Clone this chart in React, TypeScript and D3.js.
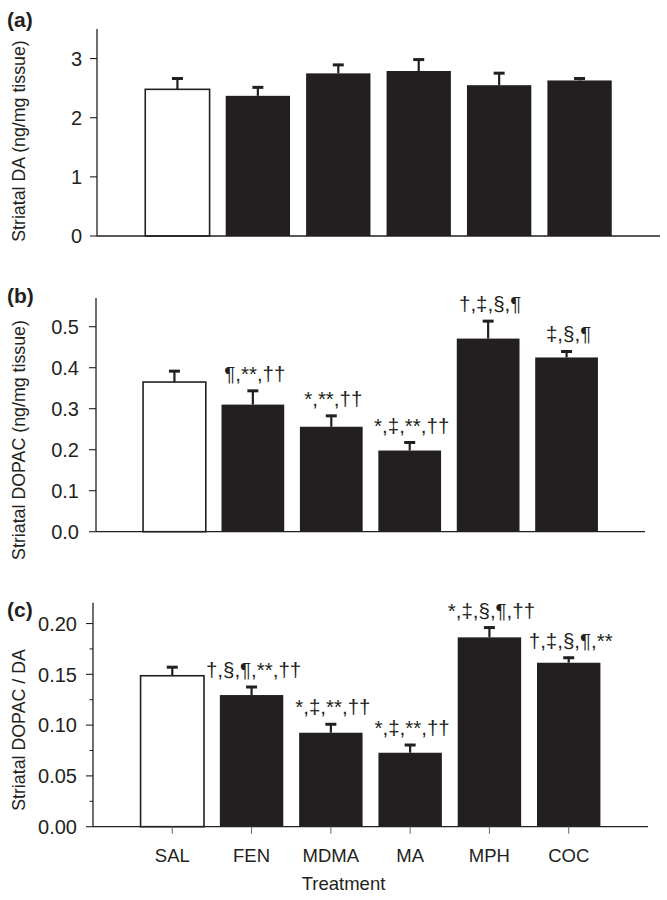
import React from "react";
import * as d3 from "d3";

const categories = ["SAL", "FEN", "MDMA", "MA", "MPH", "COC"];
const daMean = [2.48, 2.37, 2.75, 2.79, 2.55, 2.63];
const daErr = [0.2, 0.16, 0.16, 0.21, 0.22, 0.05];
const dopacMean = [0.365, 0.31, 0.256, 0.198, 0.471, 0.425];
const dopacErr = [0.029, 0.036, 0.029, 0.022, 0.045, 0.017];
const ratioMean = [0.1486, 0.1296, 0.0925, 0.0728, 0.1864, 0.1614];
const ratioErr = [0.0094, 0.0089, 0.0093, 0.0086, 0.0106, 0.0059];
const daSig = ["", "", "", "", "", ""];
const dopacSig = ["", "¶,**,††", "*,**,††", "*,‡,**,††", "†,‡,§,¶", "‡,§,¶"];
const ratioSig = ["", "†,§,¶,**,††", "*,‡,**,††", "*,‡,**,††", "*,‡,§,¶,††", "†,‡,§,¶,**"];
const daTicks = [0, 1, 2, 3];
const dopacTicks = [0, 0.1, 0.2, 0.3, 0.4, 0.5];
const ratioTicks = [0, 0.05, 0.1, 0.15, 0.2];
const ratioMinor = [0.025, 0.075, 0.125, 0.175];

const FONT = "'Liberation Sans', Arial, Helvetica, sans-serif";
const INK = "#231f20";

type PanelProps = {
  letter: string;
  letterY: number;
  yLabel: string;
  yLabelCenter: number;
  x0: number;
  x1: number;
  yBottom: number;
  yTop: number;
  yMax: number;
  means: number[];
  errs: number[];
  sig: string[];
  ticks: number[];
  minor?: number[];
  fmt: string;
  labelGap: number;
  showX?: boolean;
};

function Panel(p: PanelProps) {
  const x = d3
    .scaleBand<string>()
    .domain(categories)
    .range([p.x0, p.x1])
    .paddingInner(0.2)
    .paddingOuter(0.6);
  const y = d3.scaleLinear().domain([0, p.yMax]).range([p.yBottom, p.yTop]);
  const f = d3.format(p.fmt);
  const bw = x.bandwidth();
  return (
    <g>
      <text x={7} y={p.letterY} fontSize={21} fontWeight="bold" fill={INK} fontFamily={FONT}>
        {p.letter}
      </text>
      <text
        transform={`translate(24.5,${p.yLabelCenter}) rotate(-90)`}
        textAnchor="middle"
        fontSize={17.8}
        fill={INK}
        fontFamily={FONT}
      >
        {p.yLabel}
      </text>
      {categories.map((c, i) => {
        const cx = (x(c) as number) + bw / 2;
        const top = y(p.means[i]);
        const et = y(p.means[i] + p.errs[i]);
        return (
          <g key={c}>
            <line x1={cx} x2={cx} y1={top} y2={et} stroke={INK} strokeWidth={2.2} />
            <line x1={cx - 5.5} x2={cx + 5.5} y1={et + 1} y2={et + 1} stroke={INK} strokeWidth={3} />
            <rect
              x={x(c)}
              y={top}
              width={bw}
              height={p.yBottom - top}
              fill={i === 0 ? "#fff" : INK}
              stroke={INK}
              strokeWidth={i === 0 ? 1.6 : 0}
            />
            {p.sig[i] ? (
              <text
                x={cx + 2}
                y={et - 9}
                textAnchor="middle"
                fontSize={20.5}
                fill={INK}
                fontFamily={FONT}
              >
                {p.sig[i]}
              </text>
            ) : null}
          </g>
        );
      })}
      <line x1={p.x0} x2={p.x0} y1={p.yBottom} y2={p.yTop} stroke={INK} strokeWidth={1.3} />
      <line x1={p.x0} x2={p.x1} y1={p.yBottom} y2={p.yBottom} stroke={INK} strokeWidth={1.3} />
      {p.ticks.map((t) => (
        <g key={t}>
          <line x1={p.x0 - 7} x2={p.x0} y1={y(t)} y2={y(t)} stroke={INK} strokeWidth={1.1} />
          <text
            x={p.x0 - p.labelGap}
            y={y(t)}
            dy="0.36em"
            textAnchor="end"
            fontSize={20}
            fill={INK}
            fontFamily={FONT}
          >
            {f(t)}
          </text>
        </g>
      ))}
      {(p.minor || []).map((t) => (
        <line key={t} x1={p.x0 - 3.5} x2={p.x0} y1={y(t)} y2={y(t)} stroke={INK} strokeWidth={1} />
      ))}
      {p.showX
        ? categories.map((c) => {
            const cx = (x(c) as number) + bw / 2;
            return (
              <g key={"x" + c}>
                <line x1={cx} x2={cx} y1={p.yBottom} y2={p.yBottom + 7} stroke="#666" strokeWidth={1} />
                <text x={cx} y={862} textAnchor="middle" fontSize={18.5} fill={INK} fontFamily={FONT}>
                  {c}
                </text>
              </g>
            );
          })
        : null}
      {p.showX ? (
        <text
          x={(p.x0 + p.x1) / 2 - 27}
          y={890}
          textAnchor="middle"
          fontSize={18.5}
          fill={INK}
          fontFamily={FONT}
        >
          Treatment
        </text>
      ) : null}
    </g>
  );
}

export default function App() {
  return (
    <svg
      width={667}
      height={900}
      viewBox="0 0 667 900"
      style={{ position: "absolute", left: 0, top: 0, background: "#fff" }}
    >
      <rect width={667} height={900} fill="#fff" />
      <Panel
        letter="(a)"
        letterY={27}
        yLabel="Striatal DA (ng/mg tissue)"
        yLabelCenter={141}
        x0={97}
        x1={660}
        yBottom={236}
        yTop={29}
        yMax={3.5}
        means={daMean}
        errs={daErr}
        sig={daSig}
        ticks={daTicks}
        fmt="d"
        labelGap={15}
      />
      <Panel
        letter="(b)"
        letterY={303}
        yLabel="Striatal DOPAC (ng/mg tissue)"
        yLabelCenter={440}
        x0={96}
        x1={645}
        yBottom={531.7}
        yTop={298}
        yMax={0.57}
        means={dopacMean}
        errs={dopacErr}
        sig={dopacSig}
        ticks={dopacTicks}
        fmt=".1f"
        labelGap={17}
      />
      <Panel
        letter="(c)"
        letterY={617}
        yLabel="Striatal DOPAC / DA"
        yLabelCenter={730}
        x0={93}
        x1={648}
        yBottom={826.7}
        yTop={602.7}
        yMax={0.2205}
        means={ratioMean}
        errs={ratioErr}
        sig={ratioSig}
        ticks={ratioTicks}
        minor={ratioMinor}
        fmt=".2f"
        labelGap={16}
        showX
      />
    </svg>
  );
}
